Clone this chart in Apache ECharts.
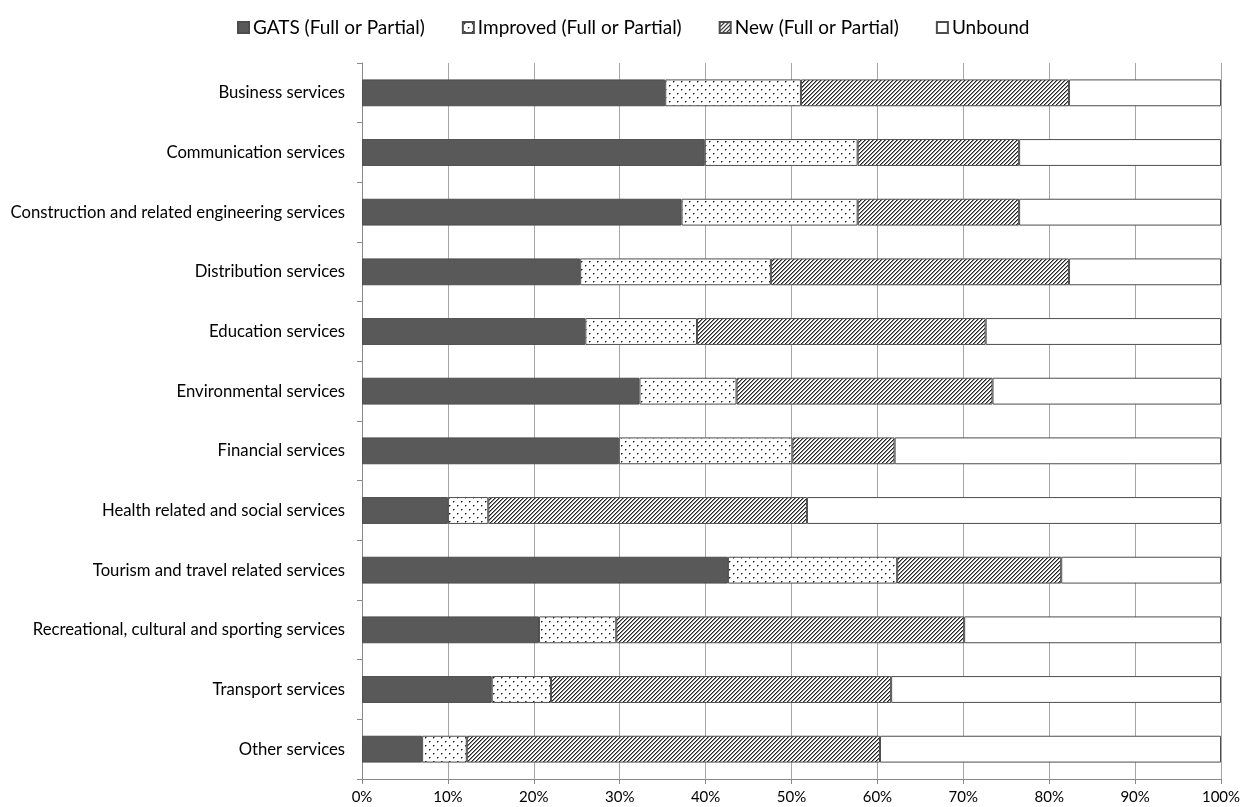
<!DOCTYPE html>
<html>
<head>
<meta charset="utf-8">
<title>Services commitments by sector</title>
<script src="https://cdn.jsdelivr.net/npm/echarts@6/dist/echarts.min.js"></script>
<style>
  html, body { margin: 0; padding: 0; background: #ffffff; }
  #chart { width: 1242px; height: 807px; }
</style>
</head>
<body>
<div id="chart"></div>
<script>
// Sectors, top to bottom
const sectors = [
  'Business services',
  'Communication services',
  'Construction and related engineering services',
  'Distribution services',
  'Education services',
  'Environmental services',
  'Financial services',
  'Health related and social services',
  'Tourism and travel related services',
  'Recreational, cultural and sporting services',
  'Transport services',
  'Other services'
];

// Share of sub-sectors (%) in each commitment category
const gats     = [35.3, 39.9, 37.2, 25.4, 26.0, 32.3, 29.9, 10.0, 42.6, 20.6, 15.1,  7.0];
const improved = [15.8, 17.8, 20.5, 22.2, 13.0, 11.3, 20.2,  4.7, 19.7,  9.0,  6.9,  5.2];
const newComm  = [31.2, 18.8, 18.8, 34.7, 33.6, 29.8, 11.9, 37.1, 19.1, 40.5, 39.6, 48.1];
const unbound  = [17.7, 23.5, 23.5, 17.7, 27.4, 26.6, 38.0, 48.2, 18.6, 29.9, 38.4, 39.7];

const seriesNames = ['GATS (Full or Partial)', 'Improved (Full or Partial)', 'New (Full or Partial)', 'Unbound'];
const xTicks = [0, 10, 20, 30, 40, 50, 60, 70, 80, 90, 100];

// Fill patterns drawn on small tiles
function dotTile() {
  const c = document.createElement('canvas');
  c.width = 8; c.height = 8;
  const g = c.getContext('2d');
  g.fillStyle = '#ffffff';
  g.fillRect(0, 0, 8, 8);
  g.fillStyle = '#1e1e1e';
  g.fillRect(1, 1, 1, 1);
  g.fillRect(5, 5, 1, 1);
  g.fillStyle = '#8a8a8a';
  g.fillRect(2, 1, 1, 1);
  g.fillRect(1, 2, 1, 1);
  g.fillRect(6, 5, 1, 1);
  g.fillRect(5, 6, 1, 1);
  return c;
}
function hatchTile() {
  const n = 4;
  const c = document.createElement('canvas');
  c.width = n; c.height = n;
  const g = c.getContext('2d');
  g.fillStyle = '#ffffff';
  g.fillRect(0, 0, n, n);
  for (let y = 0; y < n; y++) {
    for (let x = 0; x < n; x++) {
      const k = (x + y) % n;
      if (k === 0) { g.fillStyle = '#222222'; g.fillRect(x, y, 1, 1); }
      else if (k === 1) { g.fillStyle = '#8c8c8c'; g.fillRect(x, y, 1, 1); }
    }
  }
  return c;
}

const fills = [
  '#595959',
  { image: dotTile(), repeat: 'repeat' },
  { image: hatchTile(), repeat: 'repeat' },
  '#ffffff'
];
const values = [gats, improved, newComm, unbound];

const FONT = 'Lato';
const chart = echarts.init(document.getElementById('chart'), null, { renderer: 'canvas' });

chart.setOption({
  backgroundColor: '#ffffff',
  animation: false,
  textStyle: { fontFamily: FONT },
  legend: {
    top: 13,
    left: 232,
    itemWidth: 11,
    itemHeight: 11,
    itemGap: 37,
    icon: 'rect',
    textStyle: { fontFamily: FONT, fontSize: 19, color: '#000000', padding: [0, 0, 0, -1] },
    data: seriesNames
  },
  grid: {
    left: 362,
    right: 21,
    top: 63,
    bottom: 28,
    outerBoundsMode: 'none'
  },
  xAxis: {
    type: 'value',
    min: 0,
    max: 100,
    interval: 10,
    axisLine: { show: true, lineStyle: { color: '#888888', width: 1 } },
    axisTick: { show: true, length: 5, lineStyle: { color: '#888888' } },
    splitLine: { show: true, lineStyle: { color: '#a6a6a6', width: 1 } },
    axisLabel: {
      margin: 11,
      fontFamily: FONT,
      fontSize: 15,
      color: '#000000',
      formatter: v => (xTicks.indexOf(v) >= 0 ? v + '%' : '')
    }
  },
  yAxis: {
    type: 'category',
    inverse: true,
    data: sectors,
    axisLine: { show: true, lineStyle: { color: '#888888', width: 1 } },
    axisTick: { show: true, length: 5, alignWithLabel: false, lineStyle: { color: '#888888' } },
    splitLine: { show: false },
    axisLabel: {
      margin: 17,
      fontFamily: FONT,
      fontSize: 16.7,
      color: '#000000'
    }
  },
  series: seriesNames.map((name, i) => ({
    name: name,
    type: 'bar',
    stack: 'total',
    barWidth: '45%',
    data: values[i],
    itemStyle: {
      color: fills[i],
      borderColor: '#4d4d4d',
      borderWidth: 1
    },
    emphasis: { disabled: true }
  }))
});
</script>
</body>
</html>
